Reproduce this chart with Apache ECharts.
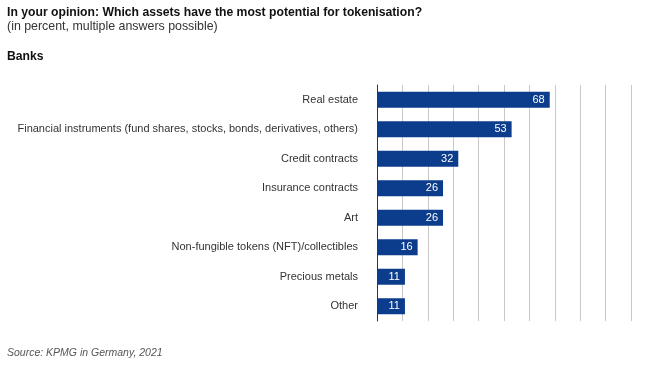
<!DOCTYPE html>
<html><head><meta charset="utf-8">
<script src="https://cdn.jsdelivr.net/npm/echarts@6/dist/echarts.min.js"></script>
<style>html,body{margin:0;padding:0;background:#fff}#c{width:669px;height:368px}</style>
</head><body><div id="c"></div>
<script>
const categories = ["Real estate","Financial instruments (fund shares, stocks, bonds, derivatives, others)","Credit contracts","Insurance contracts","Art","Non-fungible tokens (NFT)/collectibles","Precious metals","Other"];
const values = [68,53,32,26,26,16,11,11];
const titleText = "In your opinion: Which assets have the most potential for tokenisation?";
const subtitleText = "(in percent, multiple answers possible)";
const groupText = "Banks";
const sourceText = "Source: KPMG in Germany, 2021";
const font = "Liberation Sans, Arial, sans-serif";
const chart = echarts.init(document.getElementById('c'), null, {renderer:'canvas'});
chart.setOption({
  animation:false,
  graphic:[
    {type:'text',left:7,top:7,style:{text:titleText,font:'bold 12.2px '+font,fill:'#111'}},
    {type:'text',left:7,top:21,style:{text:subtitleText,font:'12.4px '+font,fill:'#333'}},
    {type:'text',left:7,top:51,style:{text:groupText,font:'bold 12.2px '+font,fill:'#111'}},
    {type:'text',left:7,top:348,style:{text:sourceText,font:'italic 10.5px '+font,fill:'#555'}}
  ],
  grid:{left:377,top:85,width:254,height:236,containLabel:false},
  xAxis:{type:'value',min:0,max:100,interval:10,axisLabel:{show:false},axisLine:{show:false},axisTick:{show:false},
    splitLine:{show:true,lineStyle:{color:'#c8c8c8',width:1}}},
  yAxis:{type:'category',inverse:true,data:categories,axisTick:{show:false},
    axisLine:{show:true,lineStyle:{color:'#333',width:1}},
    axisLabel:{margin:19,fontSize:11,color:'#333',fontFamily:font}},
  series:[{type:'bar',data:values,barWidth:16,itemStyle:{color:'#0b3d8c'},
    label:{show:true,position:'insideRight',distance:5,color:'#fff',fontSize:11,fontFamily:font}}]
});
</script></body></html>
